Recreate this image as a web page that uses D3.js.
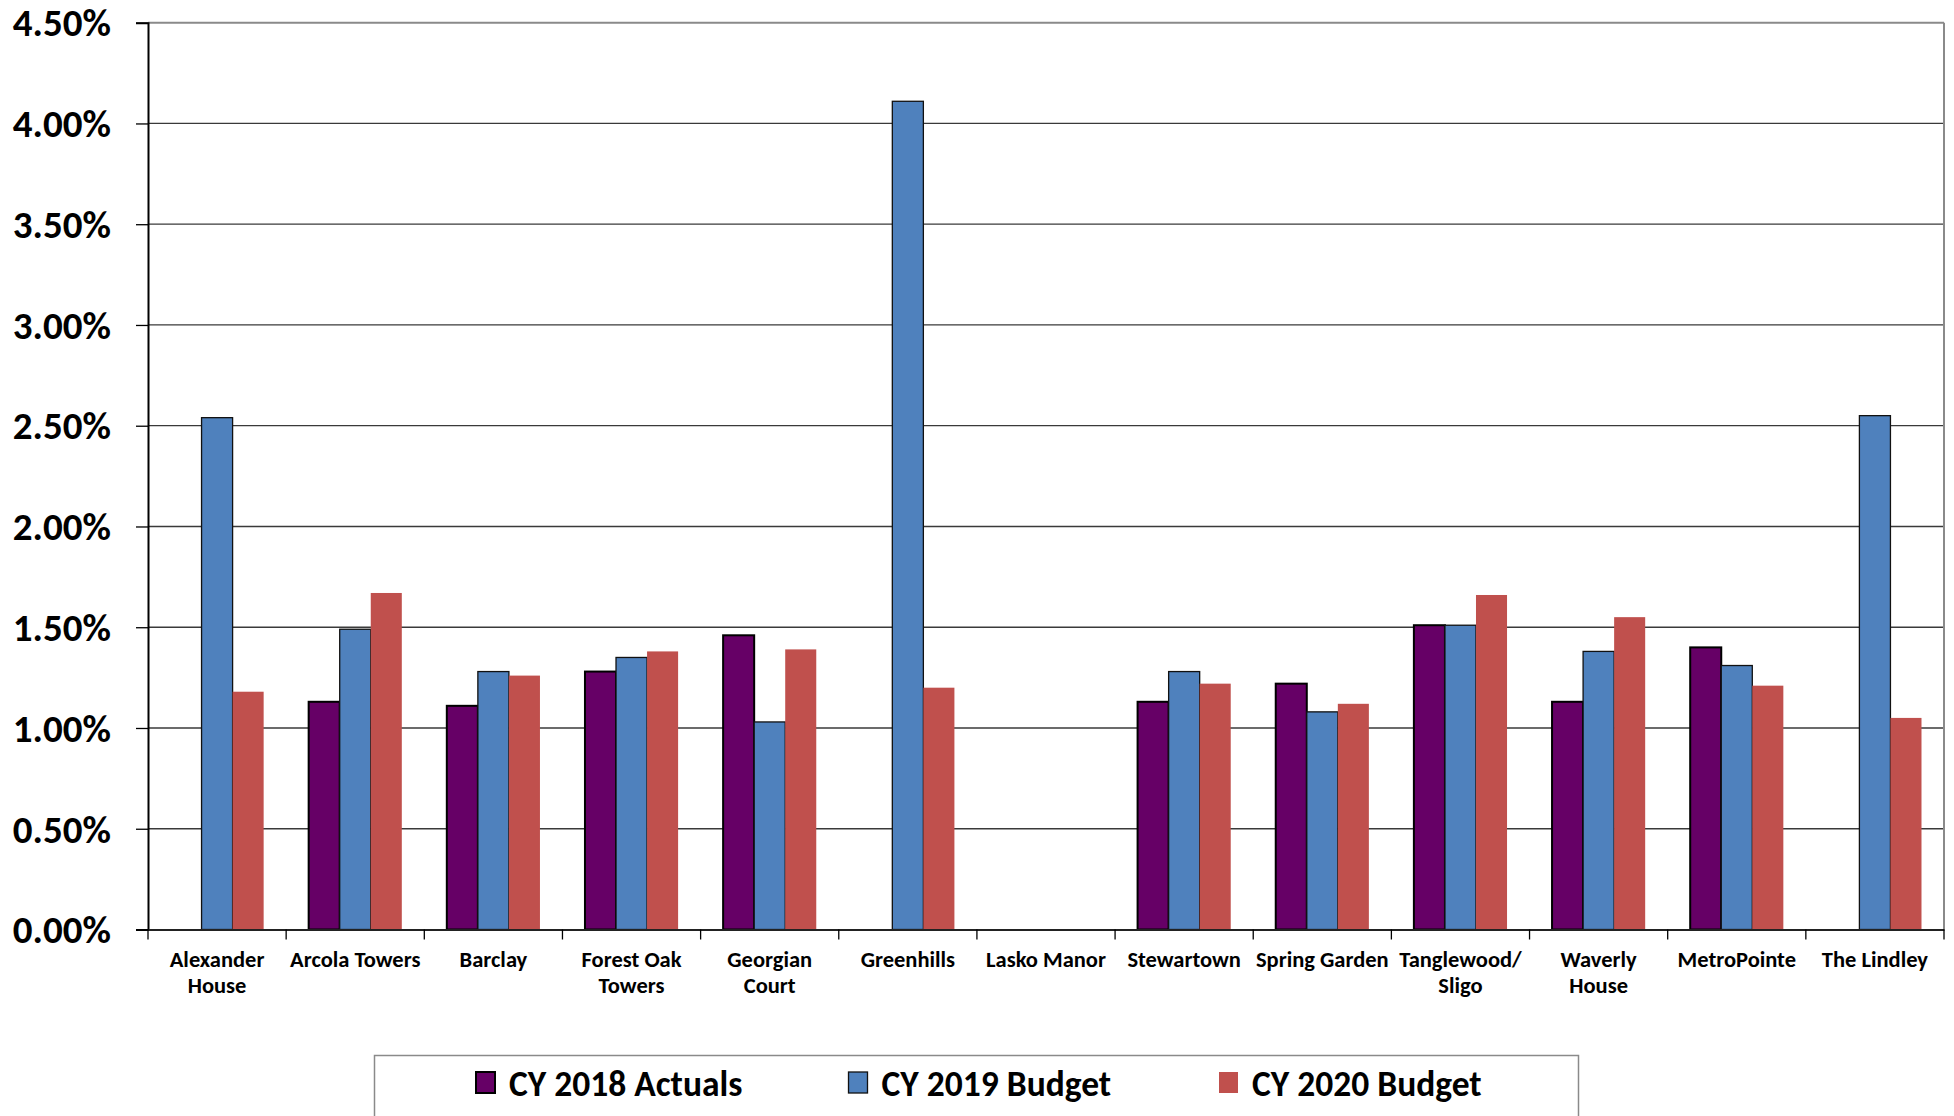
<!DOCTYPE html>
<html>
<head>
<meta charset="utf-8">
<script src="https://cdn.jsdelivr.net/npm/d3@7"></script>
<style>
  body { margin: 0; background: #fff; }
  text { font-family: Carlito, Lato, "Open Sans", sans-serif; font-weight: bold; fill: #000; }
</style>
</head>
<body>
<div id="chart"></div>
<script>
// categories (line breaks as in the original labels)
var categories = ["Alexander\nHouse", "Arcola Towers", "Barclay", "Forest Oak\nTowers", "Georgian\nCourt",
  "Greenhills", "Lasko Manor", "Stewartown", "Spring Garden", "Tanglewood/\nSligo", "Waverly\nHouse",
  "MetroPointe", "The Lindley"];

var seriesNames = ["CY 2018 Actuals", "CY 2019 Budget", "CY 2020 Budget"];

// values in percent
var actuals2018 = [null, 1.13, 1.11, 1.28, 1.46, null, null, 1.13, 1.22, 1.51, 1.13, 1.40, null];
var budget2019  = [2.54, 1.49, 1.28, 1.35, 1.03, 4.11, null, 1.28, 1.08, 1.51, 1.38, 1.31, 2.55];
var budget2020  = [1.18, 1.67, 1.26, 1.38, 1.39, 1.20, null, 1.22, 1.12, 1.66, 1.55, 1.21, 1.05];

var yTicks = [0, 0.5, 1, 1.5, 2, 2.5, 3, 3.5, 4, 4.5];

var colors  = ["#660066", "#4F81BD", "#C0504D"];
var strokes = ["#000", "#111", "none"];
var strokeW = [2, 1.3, 0];

var svgWidth = 1954, svgHeight = 1116;
var margin = { top: 22.7, right: 10, bottom: 186.5, left: 148 };
var width = svgWidth - margin.left - margin.right;
var height = svgHeight - margin.top - margin.bottom;

var svg = d3.select("#chart").append("svg")
    .attr("width", svgWidth)
    .attr("height", svgHeight);

var chartGroup = svg.append("g")
    .attr("transform", `translate(${margin.left}, ${margin.top})`);

// build rows for the grouped bars
var allSeries = [actuals2018, budget2019, budget2020];
var rows = categories.map(function(c, i) {
  return { cat: c, values: allSeries.map(function(s, k) { return { key: k, value: s[i] }; }) };
});

var x0 = d3.scaleBand().domain(categories).range([0, width]).padding(0);
var bw = x0.bandwidth();
var barW = bw / 4.45;
var gap = bw - 3 * barW;
var x1 = d3.scaleBand().domain([0, 1, 2]).range([gap / 2, bw - gap / 2]).padding(0);

var y = d3.scaleLinear().domain([0, 4.5]).range([height, 0]);

// gridlines
chartGroup.append("g")
  .selectAll("line")
  .data(yTicks.slice(1))
  .enter().append("line")
  .attr("x1", 0).attr("x2", width)
  .attr("y1", d => y(d)).attr("y2", d => y(d))
  .attr("stroke", d => d === 4.5 ? "#8a8a8a" : "#3a3a3a")
  .attr("stroke-width", d => d === 4.5 ? 2 : 1.3);

// right border of plot area
chartGroup.append("line")
  .attr("x1", width).attr("x2", width)
  .attr("y1", 0).attr("y2", height)
  .attr("stroke", "#8a8a8a").attr("stroke-width", 2);

// bars
var groups = chartGroup.selectAll("g.grp")
  .data(rows)
  .enter().append("g")
  .attr("class", "grp")
  .attr("transform", d => `translate(${x0(d.cat)},0)`);

groups.selectAll("rect")
  .data(d => d.values.filter(v => v.value != null))
  .enter().append("rect")
  .attr("x", d => x1(d.key))
  .attr("width", x1.bandwidth())
  .attr("y", d => y(d.value))
  .attr("height", d => height - y(d.value))
  .attr("fill", d => colors[d.key])
  .attr("stroke", d => strokes[d.key])
  .attr("stroke-width", d => strokeW[d.key]);

// y axis
var leftAxis = d3.axisLeft(y)
  .tickValues(yTicks)
  .tickFormat(d => d3.format(".2f")(d) + "%")
  .tickSizeOuter(0)
  .tickSize(12)
  .tickPadding(25);

var yAxisG = chartGroup.append("g").call(leftAxis);
yAxisG.select(".domain").attr("stroke", "#000").attr("stroke-width", 2);
yAxisG.selectAll(".tick line").attr("stroke", "#000").attr("stroke-width", 1.3);
yAxisG.selectAll(".tick text")
  .attr("font-size", "39px")
  .attr("dy", "0.34em");

// x axis: boundary ticks
var bottomAxis = d3.axisBottom(x0).tickSize(0).tickPadding(0).tickFormat("");
var xAxisG = chartGroup.append("g")
  .attr("transform", `translate(0, ${height})`)
  .call(bottomAxis);
xAxisG.select(".domain").attr("stroke", "#222").attr("stroke-width", 2);

var bounds = categories.map(c => x0(c)).concat([width]);
xAxisG.selectAll("line.bound")
  .data(bounds)
  .enter().append("line")
  .attr("class", "bound")
  .attr("x1", d => d).attr("x2", d => d)
  .attr("y1", 0).attr("y2", 10)
  .attr("stroke", "#000").attr("stroke-width", 1.3);

// category labels
var labels = xAxisG.selectAll("text.cat")
  .data(categories)
  .enter().append("text")
  .attr("class", "cat")
  .attr("text-anchor", "middle")
  .attr("font-size", "22.5px")
  .attr("transform", d => `translate(${x0(d) + bw / 2}, 37)`);

labels.selectAll("tspan")
  .data(d => d.split("\n"))
  .enter().append("tspan")
  .attr("x", 0)
  .attr("dy", (d, i) => i === 0 ? 0 : 26.5)
  .text(d => d);

// legend
var legend = svg.append("g");
legend.append("rect")
  .attr("x", 374.5).attr("y", 1055.5)
  .attr("width", 1204).attr("height", 90)
  .attr("fill", "#fff")
  .attr("stroke", "#8a8a8a").attr("stroke-width", 1.5);

var legendX = [476, 848.5, 1219];
var items = legend.selectAll("g.item")
  .data(seriesNames)
  .enter().append("g")
  .attr("class", "item")
  .attr("transform", (d, i) => `translate(${legendX[i]}, 1072)`);

items.append("rect")
  .attr("width", 19).attr("height", 21)
  .attr("fill", (d, i) => colors[i])
  .attr("stroke", (d, i) => strokes[i])
  .attr("stroke-width", (d, i) => strokeW[i]);

items.append("text")
  .attr("x", 33)
  .attr("y", 24)
  .attr("font-size", "35.5px")
  .text(d => d);
</script>
</body>
</html>
